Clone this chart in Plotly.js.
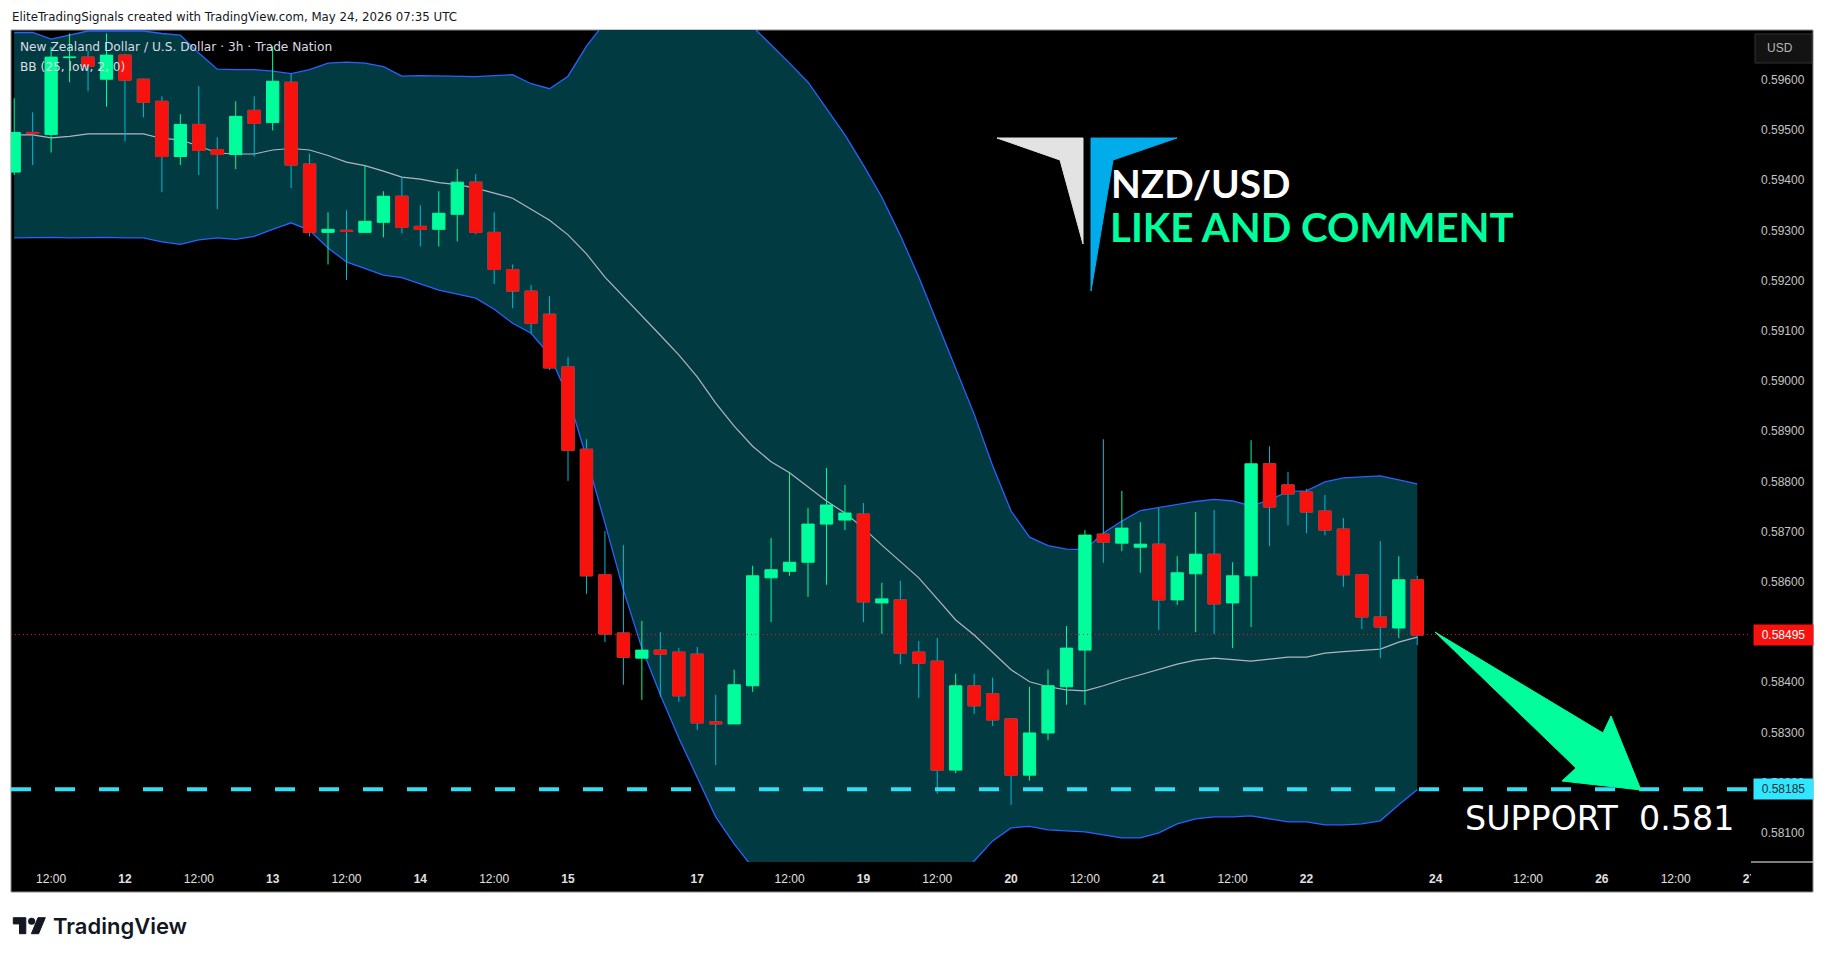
<!DOCTYPE html>
<html>
<head>
<meta charset="utf-8">
<script src="https://cdn.plot.ly/plotly-3.0.1.min.js"></script>
<style>html,body{margin:0;padding:0;background:#fff;overflow:hidden}</style>
</head>
<body>
<div id="chart" style="width:1825px;height:959px"></div>
<script>
// 3h NZD/USD candles
var opens = [
  0.59416,0.59495,0.59491,0.59644,0.59645,0.59601,0.59649,0.59601,0.59557,0.59447,
  0.59511,0.59461,0.59451,0.59539,0.59515,0.59595,0.59432,0.59296,0.59300,0.59296,
  0.59316,0.59368,0.59308,0.59302,0.59332,0.59396,0.59296,0.59222,0.59179,0.59133,
  0.59028,0.58864,0.58614,0.58498,0.58448,0.58464,0.58460,0.58456,0.58321,0.58317,
  0.58393,0.58608,0.58621,0.58639,0.58715,0.58723,0.58735,0.58558,0.58564,0.58460,
  0.58442,0.58225,0.58393,0.58377,0.58327,0.58215,0.58299,0.58391,0.58464,0.58695,
  0.58677,0.58669,0.58675,0.58564,0.58616,0.58655,0.58558,0.58612,0.58835,0.58793,
  0.58779,0.58741,0.58705,0.58614,0.58530,0.58508,0.58604];
var closes = [
  0.59495,0.59493,0.59645,0.59645,0.59627,0.59649,0.59599,0.59555,0.59447,0.59511,
  0.59459,0.59451,0.59527,0.59513,0.59597,0.59430,0.59296,0.59302,0.59298,0.59318,
  0.59368,0.59306,0.59302,0.59334,0.59396,0.59296,0.59222,0.59179,0.59115,0.59026,
  0.58862,0.58612,0.58496,0.58450,0.58464,0.58456,0.58373,0.58319,0.58317,0.58395,
  0.58612,0.58624,0.58639,0.58715,0.58753,0.58737,0.58560,0.58566,0.58458,0.58438,
  0.58225,0.58393,0.58353,0.58325,0.58215,0.58299,0.58393,0.58468,0.58693,0.58679,
  0.58707,0.58675,0.58564,0.58618,0.58655,0.58556,0.58612,0.58835,0.58749,0.58775,
  0.58739,0.58703,0.58614,0.58530,0.58510,0.58604,0.58494];
var highs = [
  0.59563,0.59535,0.59665,0.59692,0.59658,0.59692,0.59651,0.59602,0.59567,0.59531,
  0.59587,0.59485,0.59557,0.59567,0.59666,0.59612,0.59453,0.59336,0.59340,0.59429,
  0.59378,0.59406,0.59350,0.59378,0.59422,0.59412,0.59336,0.59232,0.59191,0.59169,
  0.59048,0.58884,0.58701,0.58673,0.58522,0.58500,0.58468,0.58470,0.58375,0.58425,
  0.58632,0.58687,0.58818,0.58747,0.58827,0.58793,0.58757,0.58598,0.58602,0.58482,
  0.58488,0.58417,0.58417,0.58409,0.58327,0.58391,0.58425,0.58512,0.58703,0.58884,
  0.58781,0.58719,0.58747,0.58651,0.58739,0.58743,0.58639,0.58882,0.58870,0.58819,
  0.58785,0.58773,0.58727,0.58616,0.58681,0.58651,0.58612];
var lows = [
  0.59410,0.59430,0.59455,0.59595,0.59577,0.59546,0.59477,0.59525,0.59376,0.59430,
  0.59410,0.59342,0.59422,0.59447,0.59499,0.59384,0.59288,0.59232,0.59201,0.59296,
  0.59286,0.59294,0.59268,0.59268,0.59278,0.59292,0.59193,0.59145,0.59095,0.59022,
  0.58801,0.58576,0.58480,0.58395,0.58365,0.58371,0.58361,0.58305,0.58235,0.58317,
  0.58381,0.58520,0.58612,0.58570,0.58594,0.58703,0.58520,0.58496,0.58436,0.58369,
  0.58178,0.58219,0.58337,0.58313,0.58156,0.58204,0.58285,0.58355,0.58355,0.58638,
  0.58661,0.58618,0.58504,0.58554,0.58500,0.58496,0.58468,0.58510,0.58671,0.58713,
  0.58697,0.58693,0.58590,0.58506,0.58448,0.58488,0.58474];

// BB (25, low, 2, 0)
var bbUpper = [
  0.59694,0.59694,0.59681,0.59689,0.59697,0.59697,0.59697,0.59697,0.59692,0.59689,
  0.59653,0.59621,0.59620,0.59620,0.59617,0.59612,0.59620,0.59633,0.59635,0.59633,
  0.59626,0.59607,0.59608,0.59607,0.59606,0.59606,0.59608,0.59610,0.59592,0.59582,
  0.59607,0.59667,0.59714,0.59768,0.59808,0.59828,0.59828,0.59808,0.59778,0.59742,
  0.59705,0.59669,0.59633,0.59595,0.59543,0.59490,0.59430,0.59366,0.59290,0.59207,
  0.59116,0.59026,0.58934,0.58831,0.58741,0.58689,0.58672,0.58665,0.58664,0.58697,
  0.58721,0.58742,0.58748,0.58755,0.58760,0.58764,0.58761,0.58751,0.58763,0.58780,
  0.58781,0.58799,0.58807,0.58809,0.58811,0.58803,0.58795];
var bbBasis = [
  0.59490,0.59490,0.59484,0.59487,0.59492,0.59492,0.59492,0.59492,0.59483,0.59480,
  0.59468,0.59454,0.59452,0.59452,0.59460,0.59463,0.59460,0.59449,0.59436,0.59429,
  0.59418,0.59406,0.59402,0.59395,0.59391,0.59384,0.59374,0.59364,0.59342,0.59320,
  0.59291,0.59253,0.59207,0.59169,0.59131,0.59091,0.59052,0.59008,0.58956,0.58910,
  0.58870,0.58839,0.58817,0.58789,0.58761,0.58737,0.58707,0.58673,0.58640,0.58608,
  0.58566,0.58524,0.58494,0.58460,0.58425,0.58401,0.58391,0.58385,0.58383,0.58393,
  0.58405,0.58415,0.58425,0.58436,0.58444,0.58448,0.58445,0.58442,0.58446,0.58450,
  0.58450,0.58458,0.58461,0.58464,0.58466,0.58480,0.58490];
var bbLower = [
  0.59285,0.59286,0.59286,0.59285,0.59286,0.59286,0.59285,0.59285,0.59277,0.59272,
  0.59281,0.59285,0.59282,0.59288,0.59302,0.59315,0.59300,0.59265,0.59237,0.59224,
  0.59211,0.59206,0.59194,0.59181,0.59173,0.59165,0.59143,0.59115,0.59095,0.59052,
  0.58969,0.58847,0.58717,0.58584,0.58468,0.58375,0.58289,0.58212,0.58132,0.58078,
  0.58031,0.57997,0.57967,0.57937,0.57917,0.57903,0.57897,0.57897,0.57903,0.57917,
  0.57943,0.57987,0.58044,0.58084,0.58110,0.58113,0.58106,0.58104,0.58102,0.58096,
  0.58090,0.58090,0.58100,0.58118,0.58128,0.58132,0.58132,0.58134,0.58128,0.58122,
  0.58122,0.58116,0.58116,0.58118,0.58124,0.58156,0.58186];

var tickBars = [2,6,10,14,18,22,26,30,37,42,46,50,54,58,62,66,70,77,82,86,90,94];
var tickLabels = ['12:00','<b>12</b>','12:00','<b>13</b>','12:00','<b>14</b>','12:00','<b>15</b>','<b>17</b>','12:00','<b>19</b>','12:00','<b>20</b>','12:00','<b>21</b>','12:00','<b>22</b>','<b>24</b>','12:00','<b>26</b>','12:00','<b>27</b>'];
var priceTicks = [0.581,0.582,0.583,0.584,0.585,0.586,0.587,0.588,0.589,0.590,0.591,0.592,0.593,0.594,0.595,0.596];

var lastPrice = 0.58495;
var supportLine = 0.58187;

var xRange = [-0.173, 94.08];
var yRange = [0.58042, 0.59699];

var GREEN = '#00ff9c', RED = '#f7120d', WICK = '#00bcd4', CYAN = '#2fe0f5', BAND = '#023a42';

// pane sits at x 11..1751, y 30..862 in page pixels
function xp(px) { return (px - 11) / 1740; }
function yp(py) { return (862 - py) / 832; }
function poly(pts, color) {
    var d = pts.map(function (p, i) { return (i ? 'L' : 'M') + xp(p[0]) + ',' + yp(p[1]); }).join(' ') + ' Z';
    return {type: 'path', xref: 'paper', yref: 'paper', path: d, fillcolor: color, line: {color: color, width: 1}, layer: 'above'};
}

var bars = opens.map(function (v, i) { return i; });
var downBars = bars.filter(function (i) { return closes[i] < opens[i]; });

var bandUpper = {x: bars, y: bbUpper, type: 'scatter', mode: 'lines', line: {color: '#2962ff', width: 1.3}, hoverinfo: 'skip'};
var bandLower = {x: bars, y: bbLower, type: 'scatter', mode: 'lines', line: {color: '#2962ff', width: 1.3}, fill: 'tonexty', fillcolor: BAND, hoverinfo: 'skip'};
var bandBasis = {x: bars, y: bbBasis, type: 'scatter', mode: 'lines', line: {color: '#b2b5be', width: 1.2}, hoverinfo: 'skip'};

// candles live on an overlaid subplot so they sit above the band fill
var candles = {
    x: bars, open: opens, high: highs, low: lows, close: closes, type: 'candlestick', xaxis: 'x2', yaxis: 'y2',
    increasing: {line: {color: GREEN, width: 1}, fillcolor: GREEN},
    decreasing: {line: {color: WICK, width: 1}, fillcolor: RED}
};
// red bodies again on top, the wick colour would otherwise outline them
var redBodies = {
    x: downBars,
    open: downBars.map(function (i) { return opens[i]; }),
    high: downBars.map(function (i) { return opens[i]; }),
    low: downBars.map(function (i) { return closes[i]; }),
    close: downBars.map(function (i) { return closes[i]; }),
    type: 'candlestick', xaxis: 'x2', yaxis: 'y2',
    increasing: {line: {color: RED, width: 1}, fillcolor: RED},
    decreasing: {line: {color: RED, width: 1}, fillcolor: RED}
};

var shapes = [
    // frame of the whole widget
    {type: 'rect', xref: 'paper', yref: 'paper', x0: xp(11), x1: xp(1813), y0: yp(892), y1: yp(30), fillcolor: '#000', line: {color: '#8a8a8a', width: 1}, layer: 'below'},
    {type: 'line', xref: 'paper', yref: 'y', x0: 0, x1: 1, y0: lastPrice, y1: lastPrice, line: {color: RED, width: 1, dash: '1px,3px'}},
    {type: 'line', xref: 'paper', yref: 'y', x0: 0, x1: xp(1748), y0: supportLine, y1: supportLine, line: {color: CYAN, width: 4, dash: '20px,24px'}},
    // clips the last time label and closes the price scale
    {type: 'rect', xref: 'paper', yref: 'paper', x0: xp(1751), x1: xp(1812), y0: yp(891), y1: yp(863), fillcolor: '#000', line: {width: 0}, layer: 'above'},
    {type: 'line', xref: 'paper', yref: 'paper', x0: xp(1751), x1: xp(1813), y0: yp(862), y1: yp(862), line: {color: '#fff', width: 1}, layer: 'above'},
    // USD box
    {type: 'rect', xref: 'paper', yref: 'paper', x0: xp(1755), x1: xp(1812), y0: yp(63), y1: yp(34), fillcolor: '#131313', line: {color: '#333', width: 1}, layer: 'above'},
    // arrow
    poly([[1435, 632], [1603, 733], [1611, 716], [1641, 790], [1562, 781], [1576, 768]], GREEN),
    // logo on the chart
    poly([[997, 138], [1083, 138], [1083, 244], [1060, 160]], '#e3e3e3'),
    poly([[1091, 138], [1177, 138], [1113, 160], [1091, 291]], '#00ace9'),
    // TradingView mark below the chart
    poly([[13.3, 917.7], [25.8, 917.7], [25.8, 933.7], [19.5, 933.7], [19.5, 923.9], [13.3, 923.9]], '#131722'),
    poly([[38, 917.7], [45.3, 917.7], [38.6, 933.7], [31.4, 933.7]], '#131722'),
    {type: 'circle', xref: 'paper', yref: 'paper', x0: xp(28.1), x1: xp(35.2), y0: yp(924.8), y1: yp(917.7), fillcolor: '#131722', line: {width: 0}, layer: 'above'}
];

function label(px, py, text, font) {
    return {xref: 'paper', yref: 'paper', x: xp(px), y: yp(py), text: text, showarrow: false, xanchor: 'left', yanchor: 'middle', font: font};
}

var SANS = 'Liberation Sans, Arial, sans-serif';
var annotations = [
    label(10, 17, 'EliteTradingSignals created with TradingView.com, May 24, 2026 07:35 UTC', {size: 11.8, color: '#131722', family: 'DejaVu Sans'}),
    label(18, 47, 'New Zealand Dollar / U.S. Dollar · 3h · Trade Nation', {size: 12.2, color: '#d8dde0', family: 'DejaVu Sans'}),
    label(18, 67, 'BB (25, low, 2, 0)', {size: 12.2, color: '#d8dde0', family: 'DejaVu Sans'}),
    label(1765, 48, 'USD', {size: 12, color: '#b8b8b8', family: SANS}),
    label(1109, 183, 'NZD/USD', {size: 38.7, color: '#ffffff', family: 'Lato', weight: 700}),
    label(1108, 226, 'LIKE AND COMMENT', {size: 40.2, color: GREEN, family: 'Lato', weight: 700}),
    label(1463, 818, 'SUPPORT\u00a0\u00a00.581', {size: 33.3, color: '#ffffff', family: 'DejaVu Sans'}),
    label(51, 926, 'TradingView', {size: 22, color: '#131722', family: 'Inter', weight: 600}),
    {xref: 'paper', yref: 'y', x: xp(1783), y: lastPrice, text: lastPrice.toFixed(5), showarrow: false, xanchor: 'center', yanchor: 'middle', width: 57, height: 18, bgcolor: RED,
        font: {size: 12, color: '#ffffff', family: SANS}},
    {xref: 'paper', yref: 'y', x: xp(1783), y: supportLine, text: '0.58185', showarrow: false, xanchor: 'center', yanchor: 'middle', width: 57, height: 18, bgcolor: '#33e6ff',
        font: {size: 12, color: '#12343a', family: SANS}}
];

var layout = {
    width: 1825, height: 959,
    margin: {l: 11, r: 74, t: 30, b: 97, pad: 0},
    paper_bgcolor: '#ffffff',
    plot_bgcolor: '#000000',
    showlegend: false,
    dragmode: false,
    boxmode: 'overlay',
    boxgap: 0.05,
    xaxis: {
        range: xRange,
        tickmode: 'array', tickvals: tickBars, ticktext: tickLabels, ticks: '',
        showgrid: false, zeroline: false, showline: false, ticklabelstandoff: 8,
        tickangle: 0, tickfont: {size: 12, color: '#e0e0e0', family: SANS}
    },
    yaxis: {
        range: yRange, side: 'right',
        tickmode: 'array', tickvals: priceTicks, tickformat: '.5f', ticks: '',
        showgrid: false, zeroline: false, showline: false, ticklabelstandoff: 9,
        tickfont: {size: 12, color: '#c4c4c4', family: SANS}
    },
    xaxis2: {range: xRange, overlaying: 'x', visible: false, rangeslider: {visible: false}},
    yaxis2: {range: yRange, overlaying: 'y', visible: false},
    shapes: shapes,
    annotations: annotations
};

Plotly.newPlot('chart', [bandUpper, bandLower, bandBasis, candles, redBodies], layout, {displayModeBar: false, staticPlot: true});
</script>
</body>
</html>
